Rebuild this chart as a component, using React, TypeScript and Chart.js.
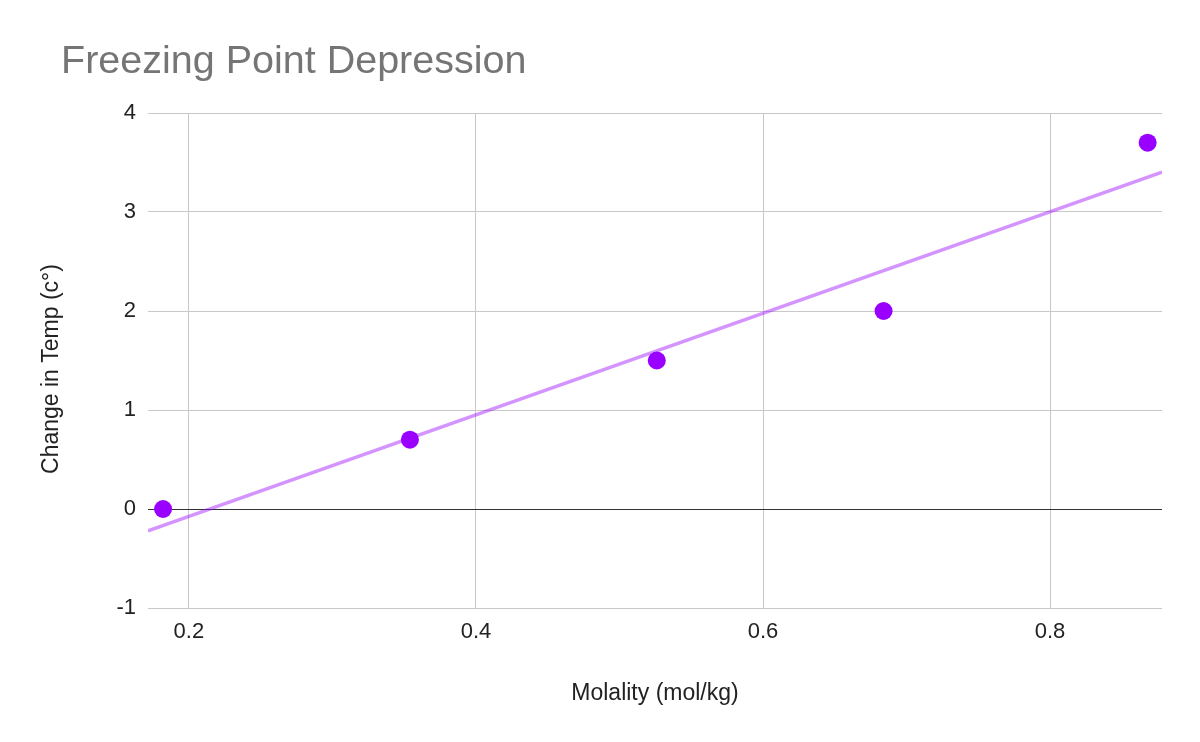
import React, { useEffect, useRef } from "react";
import { Chart, registerables } from "chart.js";

Chart.register(...registerables);

const chartTitle = "Freezing Point Depression";
const xAxisTitle = "Molality (mol/kg)";
const yAxisTitle = "Change in Temp (c°)";
const molality = [0.182, 0.354, 0.526, 0.684, 0.868];
const tempChange = [0, 0.7, 1.5, 2.0, 3.7];
const xTickValues = [0.2, 0.4, 0.6, 0.8];
const xMin = 0.1715;
const xMax = 0.878;
const yMin = -1;
const yMax = 4;

function regression(xs: number[], ys: number[]) {
  const n = xs.length;
  const mx = xs.reduce((a, b) => a + b, 0) / n;
  const my = ys.reduce((a, b) => a + b, 0) / n;
  let sxy = 0;
  let sxx = 0;
  for (let i = 0; i < n; i++) {
    sxy += (xs[i] - mx) * (ys[i] - my);
    sxx += (xs[i] - mx) * (xs[i] - mx);
  }
  const slope = sxy / sxx;
  return { slope, intercept: my - slope * mx };
}

export default function App() {
  const ref = useRef<HTMLCanvasElement>(null);
  useEffect(() => {
    if (!ref.current) return;
    const { slope, intercept } = regression(molality, tempChange);
    const trend = [xMin, xMax].map((x) => ({ x, y: slope * x + intercept }));
    const points = molality.map((x, i) => ({ x, y: tempChange[i] }));
    const font = "'Liberation Sans', Arial, sans-serif";
    const textPlugin = {
      id: "customText",
      afterDraw(chart: any) {
        const ctx = chart.ctx;
        ctx.save();
        ctx.font = `39.5px ${font}`;
        ctx.fillStyle = "#757575";
        ctx.textBaseline = "alphabetic";
        ctx.textAlign = "left";
        ctx.fillText(chartTitle, 61, 73);
        ctx.restore();
        ctx.save();
        ctx.font = `23px ${font}`;
        ctx.fillStyle = "#222222";
        ctx.textBaseline = "middle";
        ctx.textAlign = "center";
        ctx.translate(52, 369);
        ctx.rotate(-Math.PI / 2);
        ctx.fillText(yAxisTitle, 0, 0);
        ctx.restore();
      },
    };
    const chart = new Chart(ref.current, {
      type: "scatter",
      data: {
        datasets: [
          {
            label: "Data",
            data: points,
            backgroundColor: "#9900ff",
            borderColor: "#9900ff",
            pointRadius: 9,
            pointBorderWidth: 0,
            pointHoverRadius: 9,
            order: 0,
          },
          {
            label: "Trendline",
            data: trend,
            showLine: true,
            borderColor: "rgba(153,0,255,0.42)",
            borderWidth: 3.5,
            pointRadius: 0,
            order: 1,
          } as any,
        ],
      },
      options: {
        responsive: false,
        animation: false,
        layout: { padding: { top: 113, right: 38, left: 0, bottom: 0 } },
        plugins: {
          legend: { display: false },
          title: { display: false },
          tooltip: { enabled: false },
        },
        scales: {
          x: {
            type: "linear",
            min: xMin,
            max: xMax,
            afterBuildTicks: (s: any) => {
              s.ticks = xTickValues.map((v) => ({ value: v }));
            },
            afterFit: (s: any) => {
              s.height = 134;
            },
            border: { display: false },
            grid: { color: "#c8c8c8", lineWidth: 1, drawTicks: false },
            ticks: {
              padding: 11,
              color: "#222222",
              font: { family: font, size: 22 },
              callback: (v: any) => String(v),
            },
            title: {
              display: true,
              text: xAxisTitle,
              color: "#222222",
              font: { family: font, size: 23 },
              padding: { top: 0, bottom: 35 },
            },
          },
          y: {
            type: "linear",
            min: yMin,
            max: yMax,
            afterFit: (s: any) => {
              s.width = 148;
            },
            border: { display: false },
            grid: {
              color: (c: any) => (c.tick && c.tick.value === 0 ? "#333333" : "#c8c8c8"),
              lineWidth: 1,
              drawTicks: false,
            },
            ticks: {
              stepSize: 1,
              padding: 12,
              color: "#222222",
              font: { family: font, size: 22 },
            },
            title: { display: false },
          },
        },
      },
      plugins: [textPlugin],
    });
    return () => chart.destroy();
  }, []);
  return (
    <div style={{ position: "absolute", left: 0, top: 0, width: 1200, height: 742, background: "#fff" }}>
      <canvas ref={ref} width={1200} height={742} />
    </div>
  );
}
